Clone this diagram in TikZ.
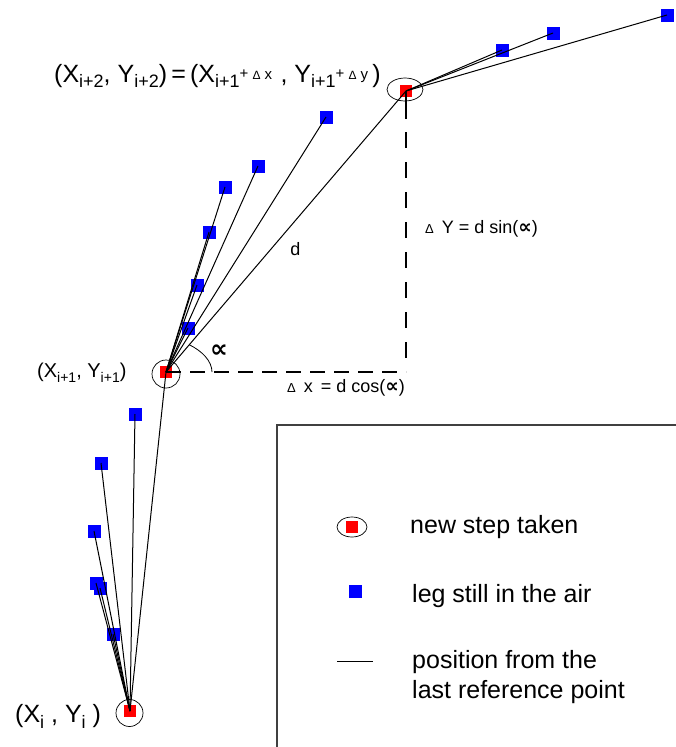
\documentclass[tikz,border=0pt]{standalone}
\usepackage{fontspec}
\setmainfont{Liberation Sans}
\newfontfamily\djv{DejaVu Sans}
\usetikzlibrary{shapes.geometric,calc}
\newcommand\fsz[1]{\fontsize{#1}{#1}\selectfont}
\newcommand\lowr[3]{\raisebox{-#1pt}{\fsz{#2}#3}}
\newcommand\upr[3]{\raisebox{#1pt}{\fsz{#2}#3}}
\newcommand\prp{{\djv\bfseries ∝}}
\begin{document}
\begin{tikzpicture}[x=1pt,y=-1pt,
  redsq/.style={fill=red, minimum size=12pt, inner sep=0pt, outer sep=0pt},
  bluesq/.style={fill=blue, minimum size=13pt, inner sep=0pt, outer sep=0pt},
  legline/.style={line width=1pt, black},
  ring/.style={draw, line width=0.7pt, black, ellipse, inner sep=0pt},
  dashh/.style={line width=1.1pt, dash pattern=on 15pt off 9pt},
  dashv/.style={line width=1.1pt, dash pattern=on 28pt off 13pt on 16pt off 14pt on 16pt off 14pt on 16pt off 14pt on 16pt off 14pt on 16pt off 14pt on 16pt off 14pt on 16pt off 14pt on 16pt off 14pt on 16pt off 14pt on 16pt off 14pt},
  lbl/.style={inner sep=0pt, anchor=base west},
]
\useasboundingbox (0,0) rectangle (676,747);
% rings
\node[ring, minimum width=27pt, minimum height=27pt] (r0) at (129.5,713) {};
\node[ring, minimum width=28pt, minimum height=28pt] (r1) at (166,374) {};
\node[ring, minimum width=36pt, minimum height=23pt] (r2) at (405,89.5) {};
% red squares (steps)
\node[redsq] (p0) at (130,711) {};
\node[redsq] (p1) at (166,372) {};
\node[redsq] (p2) at (406,91) {};
% blue squares (legs in the air)
\node[bluesq] (b01) at (135,414) {};
\node[bluesq] (b02) at (101,463) {};
\node[bluesq] (b03) at (94,531) {};
\node[bluesq] (b04) at (96,583) {};
\node[bluesq] (b05) at (100,588) {};
\node[bluesq] (b06) at (113,634) {};
\node[bluesq] (b11) at (188,328) {};
\node[bluesq] (b12) at (197,285) {};
\node[bluesq] (b13) at (209,232) {};
\node[bluesq] (b14) at (225,187) {};
\node[bluesq] (b15) at (258,166) {};
\node[bluesq] (b16) at (326,117) {};
\node[bluesq] (b21) at (502,50) {};
\node[bluesq] (b22) at (553,33) {};
\node[bluesq] (b23) at (667,15) {};
% dashed projections
\coordinate (corner) at (p2 |- p1);
\draw[dashh] (p1.center) -- (corner);
\draw[dashv] (p2.center) -- (corner);
% leg lines
\foreach \b in {b01,b02,b03,b04,b05,b06,p1}
  \draw[legline] (p0.center) -- (\b.center);
\foreach \b in {b11,b12,b13,b14,b15,b16,p2}
  \draw[legline] (p1.center) -- (\b.center);
\foreach \b in {b21,b22,b23}
  \draw[legline] (p2.center) -- (\b.center);
% angle arc
\coordinate (arcend) at ($(p1.center)!0.097!(p2.center)$);
\coordinate (arcstart) at (212,372);
\draw[line width=0.8pt] (arcstart) .. controls (212,361) and (202,351) .. (arcend);
% labels
\node[lbl, font=\fsz{25}] (eq) at (54,82)
  {(X\lowr{5}{18}{i+2}, Y\lowr{5}{18}{i+2})\,=\,(X\lowr{5}{18}{i+1}\upr{4}{15}{+}\,\upr{3}{12}{Δ}\,\upr{3}{15}{x}\,\,, Y\lowr{5}{18}{i+1}\upr{4}{15}{+}\,\upr{3}{12}{Δ}\,\upr{3}{15}{y}\,)};
\node[lbl, font=\fsz{20}] (l1) at (37,377)
  {(X\lowr{5}{14}{i+1}, Y\lowr{5}{14}{i+1})};
\node[lbl, font=\fsz{25}] (l0) at (15,722)
  {(X\lowr{6}{18}{i} , Y\lowr{6}{18}{i} )};
\node[font=\fsz{18}, inner sep=0pt] (dl) at (295.5,249.5) {d};
\node[lbl, font=\fsz{18}] (dy) at (425,233) {\fsz{13}Δ\fsz{18}\, Y = d sin(\fsz{19}\prp\fsz{18})};
\node[lbl, font=\fsz{18}] (dx) at (287,392) {\fsz{13}Δ\fsz{18}\, x\, = d cos(\fsz{19}\prp\fsz{18})};
\node[font=\fsz{25}, inner sep=0pt] (al) at (219,351) {\prp};
% legend frame
\coordinate (ftr) at (676,425);
\coordinate (ftl) at (277,425);
\coordinate (fbl) at (277,747);
\draw[line width=1.5pt, black!75] (ftr) -- (ftl) -- (fbl);
% legend items
\node[ring, minimum width=30pt, minimum height=20pt] (lr) at (352,527) {};
\node[redsq] (lrs) at (352,527) {};
\node[bluesq] (lbs) at (355,591) {};
\coordinate (lla) at (337,661);
\coordinate (llb) at (373,661);
\draw[legline] (lla) -- (llb);
\node[lbl, font=\fsz{25}] (t1) at (410,533) {new step taken};
\node[lbl, font=\fsz{25}] (t2) at (412,602) {leg still in the air};
\node[lbl, font=\fsz{25}] (t3) at (412,668) {position from the};
\node[lbl, font=\fsz{25}] (t4) at (412,698) {last reference point};
\end{tikzpicture}
\end{document}
